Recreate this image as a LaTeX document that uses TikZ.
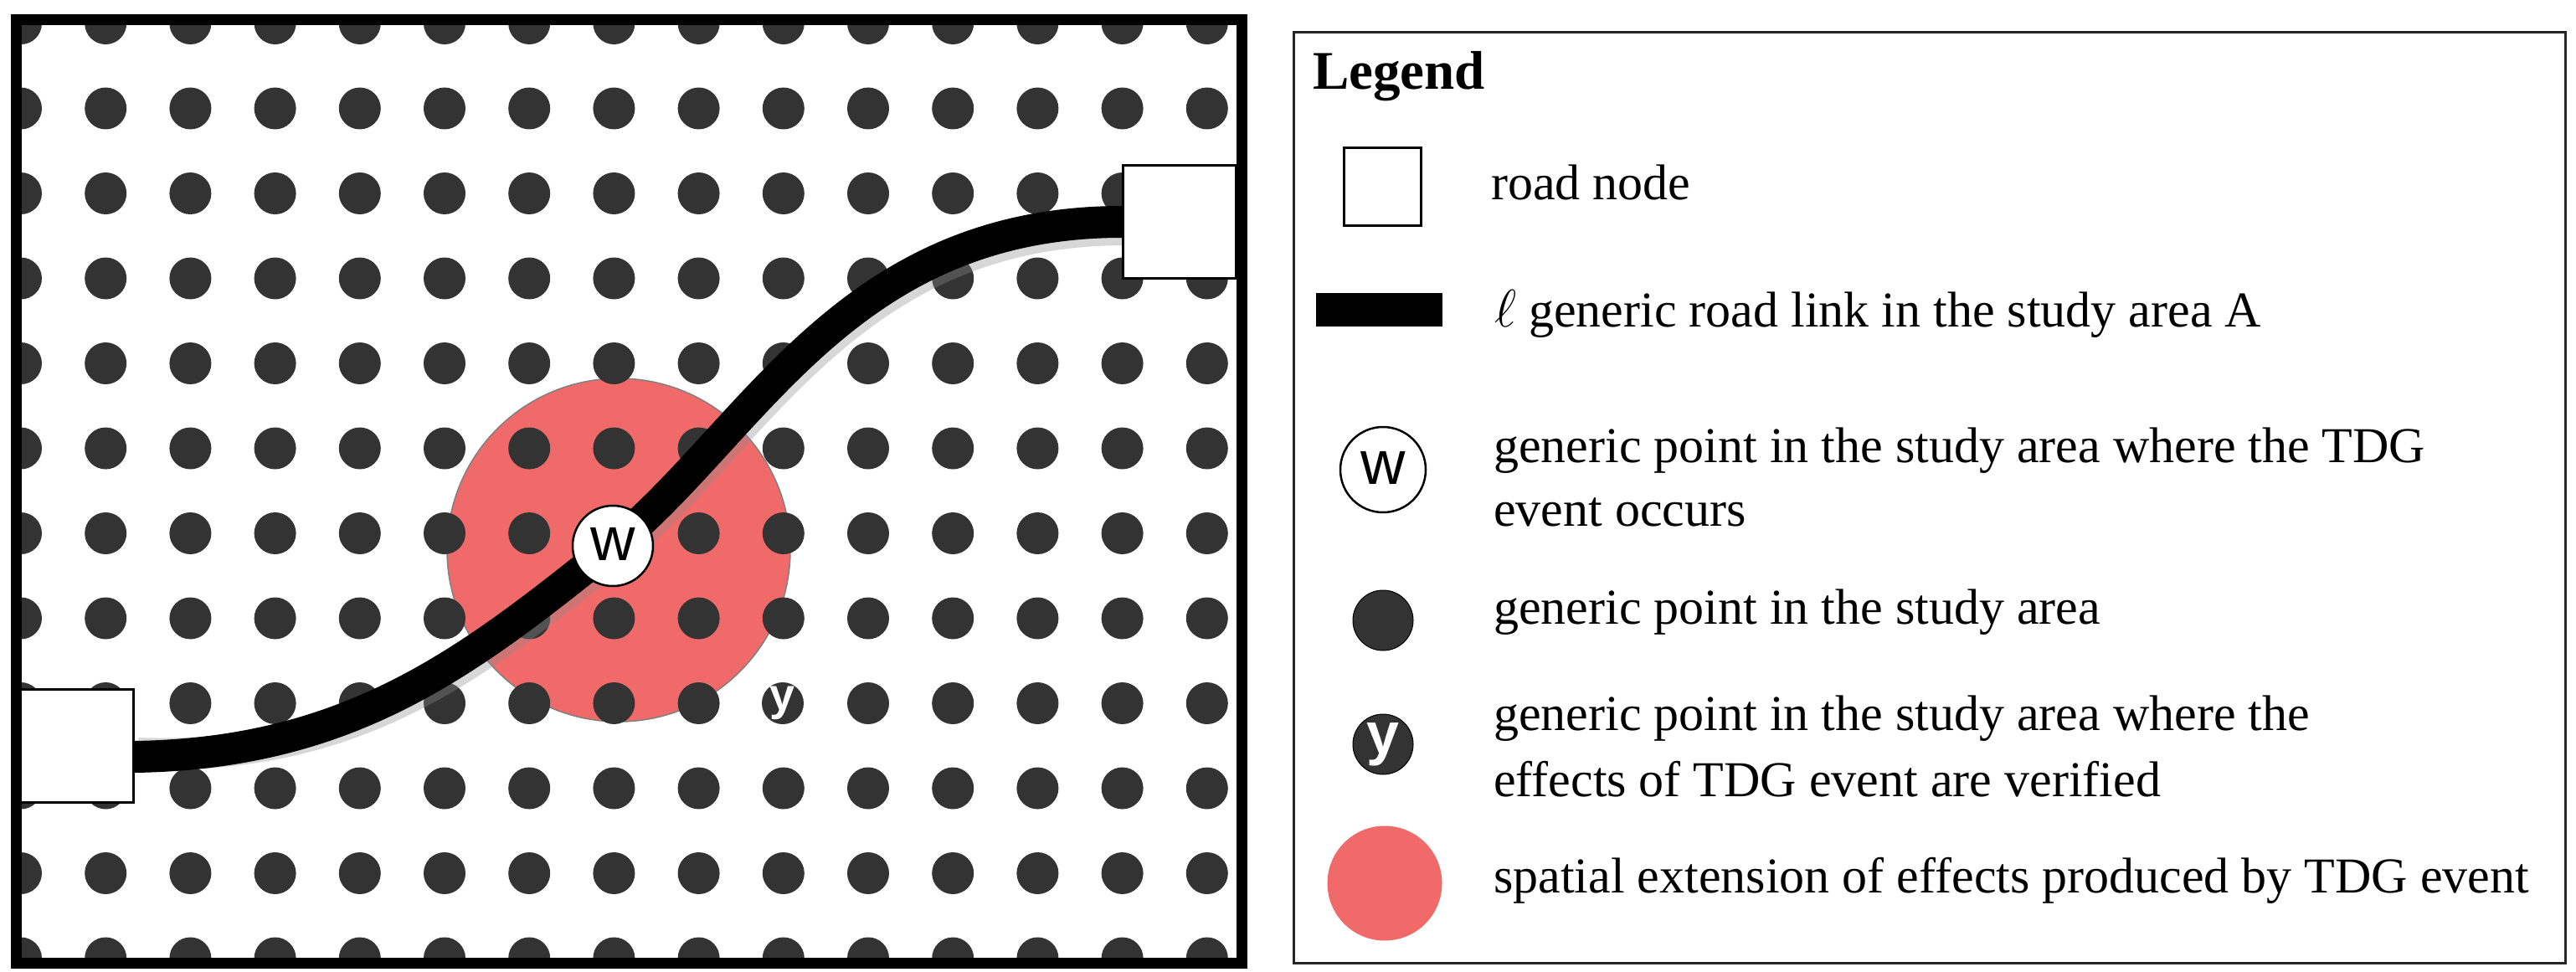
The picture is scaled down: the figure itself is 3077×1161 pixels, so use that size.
\documentclass[tikz,border=0pt]{standalone}
\usepackage{fontspec}
\setmainfont{Liberation Serif}
\newfontfamily\lsans{Liberation Sans}
\begin{document}
\begin{tikzpicture}[x=1pt,y=-1pt,
  dot/.style={circle,fill=dotc,inner sep=0pt,minimum size=50pt},
  sq/.style={draw=black,line width=2.5pt,fill=white,minimum width=135pt,minimum height=135pt,inner sep=0pt},
  road/.style={line width=38pt},
  lt/.style={anchor=base west,font=\fontsize{60}{76}\selectfont,inner sep=0pt}]
\definecolor{dotc}{HTML}{333333}
\definecolor{redc}{HTML}{F06A6A}
\useasboundingbox (0,0) rectangle (3077,1161);
% map
\begin{scope}
\clip (26,30) rectangle (1477,1144);
\node[circle,fill=redc,draw=gray,line width=1.5pt,minimum size=410pt,inner sep=0pt] (zone) at (739,657) {};
\foreach \k in {0,...,14}{\foreach \j in {0,...,11}{
  \pgfmathtruncatemacro{\skip}{(\k==9)&&(\j==8)}
  \ifnum\skip=0 \node[dot] (d\k-\j) at ({25+101.2*\k},{28+101.5*\j}) {};\fi
}}
\node[dot,text=white,font=\lsans\bfseries\fontsize{54}{54}\selectfont] (y) at (935,840) {\raisebox{0.3ex}{y}};
\node[inner sep=0pt,minimum size=96pt,circle] (w) at (732,652) {};
\node[sq] (A) at (92,891) {};
\node[sq] (B) at (1409,265) {};
\draw[road,black!45,opacity=0.35] ([xshift=4pt,yshift=-9pt]A.east) .. controls (424,909) and (564,799) .. ([xshift=4pt,yshift=-9pt]w.center) .. controls (904,524) and (1014,274) .. ([xshift=4pt,yshift=-9pt]B.west);
\draw[road] ([yshift=-13pt]A.east) .. controls (420,900) and (560,790) .. (w.center) .. controls (900,515) and (1010,265) .. (B.west);
\node[sq] at (A) {};
\node[sq] at (B) {};
\node[circle,draw=black,line width=2.5pt,fill=white,minimum size=96pt,inner sep=0pt,font=\lsans\fontsize{74}{74}\selectfont] (w2) at (w) {\raisebox{0.1ex}{w}};
\end{scope}
\draw[line width=13pt] (19.5,23.5) rectangle (1483.5,1150.5);
% legend
\draw[line width=3pt,draw=black!85] (1545,39) rectangle (3064,1150);
\node[anchor=base west,inner sep=0pt,font=\bfseries\fontsize{65}{65}\selectfont] (lg) at (1568,107) {Legend};
\node[draw=black,line width=3pt,fill=white,minimum size=92pt,inner sep=0pt] (l1) at (1651,223) {};
\node[lt] (t1) at (1781,238) {road node};
\node[fill=black,minimum width=151pt,minimum height=40pt,inner sep=0pt] (l2) at (1647,370) {};
\node[lt] (t2) at (1785,390) {\resizebox{!}{44pt}{$\ell$} generic road link in the study area A};
\node[circle,draw=black,line width=2.5pt,fill=white,minimum size=102pt,inner sep=0pt,font=\lsans\fontsize{74}{74}\selectfont] (l3) at (1652,561) {\raisebox{0.1ex}{w}};
\node[lt] (t3) at (1784,552) {generic point in the study area where the TDG};
\node[lt] (t3b) at (1784,628) {event occurs};
\node[circle,fill=dotc,draw=black,line width=1pt,minimum size=72pt,inner sep=0pt] (l4) at (1652,741) {};
\node[lt] (t4) at (1784,745) {generic point in the study area};
\node[circle,fill=dotc,draw=black,line width=1pt,minimum size=72pt,inner sep=0pt,text=white,font=\lsans\bfseries\fontsize{70}{70}\selectfont] (l5) at (1652,889) {\raisebox{0.3ex}{y}};
\node[lt] (t5) at (1784,872) {generic point in the study area where the};
\node[lt] (t5b) at (1784,951) {effects of TDG event are verified};
\node[circle,fill=redc,minimum size=137pt,inner sep=0pt] (l6) at (1654,1055) {};
\node[lt] (t6) at (1784,1066) {spatial extension of effects produced by TDG event};
\end{tikzpicture}
\end{document}
